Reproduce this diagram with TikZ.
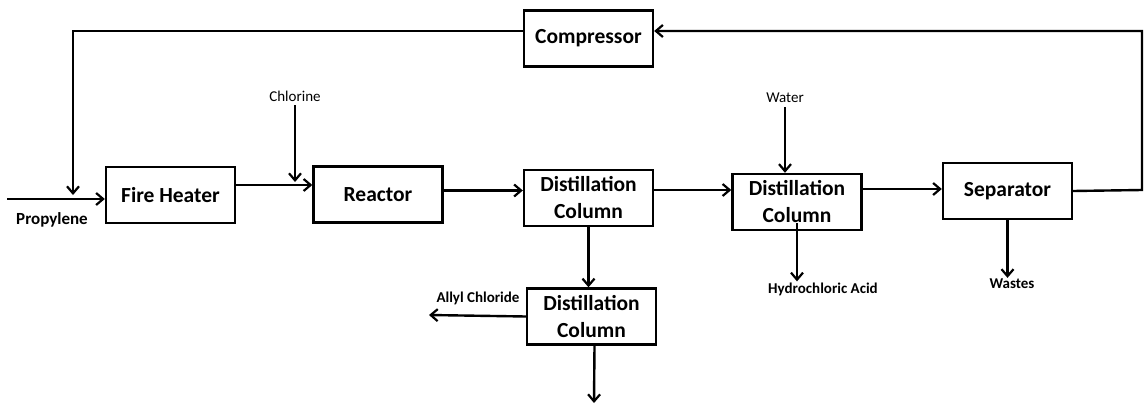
\documentclass[tikz,border=0pt]{standalone}
\usepackage{fontspec}
\setmainfont{Carlito}
\usetikzlibrary{arrows.meta,positioning,calc}
\tikzset{
  unit/.style={draw, line width=2.4pt, minimum width=129pt, minimum height=56pt, align=center,
               font=\bfseries\fontsize{21.5}{27}\selectfont, inner sep=2pt},
  arr/.style={-{Straight Barb[length=7pt,width=12pt,line width=2.2pt]}, line width=2.4pt},
  lab/.style={font=\bfseries\fontsize{15}{17}\selectfont, inner sep=1pt},
  thinlab/.style={font=\fontsize{15}{17}\selectfont, inner sep=1pt},
}

\begin{document}
\begin{tikzpicture}[x=1pt, y=-1pt]
  \useasboundingbox (0,0) rectangle (1144,404);
  % process units
  \node[unit] (comp) at (588.5,38.5) {Compressor};
  \node[unit] (fh) at (170.5,195) {Fire Heater};
  \node[unit] (re) at (378,194.5) {Reactor};
  \node[unit] (dc1) at (588.5,198) {Distillation\\Column};
  \node[unit] (dc2) at (797,202) {Distillation\\Column};
  \node[unit] (sep) at (1007.5,191) {Separator};
  \node[unit] (dc3) at (591.5,316.5) {Distillation\\Column};
  % stream labels
  \node[lab, font=\bfseries\fontsize{17}{19}\selectfont] (pr) at (52,220) {Propylene};
  \node[thinlab] (cl) at (295,96) {Chlorine};
  \node[thinlab] (wa) at (785,98) {Water};
  \node[lab] (hcl) at (823,289) {Hydrochloric Acid};
  \node[lab] (ws) at (1012,284) {Wastes};
  \node[lab] (ac) at (478,298) {Allyl Chloride};
  % free ends
  \coordinate (feed) at (7,199);
  \coordinate (rc) at (73,31);
  \coordinate (edge) at (1142,190);
  \coordinate (acout) at (429,315);
  \coordinate (btm) at (594,403);
  % main line
  \draw[arr] (feed) -- ([yshift=-4pt]fh.west);
  \draw[arr] ([yshift=10pt]fh.east) -- ([yshift=10pt]fh.east -| re.west);
  \draw[arr] (cl.south) ++(0,3) -- ([yshift=13pt]fh.east -| cl.south);
  \draw[arr] ([yshift=4pt]re.east) -- ([yshift=4pt]re.east -| dc1.west);
  \draw[arr] ([yshift=8pt]dc1.east) -- ([yshift=8pt]dc1.east -| dc2.west);
  \draw[arr] (wa.south) ++(0,3) -- (wa.south |- dc2.north);
  \draw[arr] ([yshift=13pt]dc2.east) -- ([yshift=13pt]dc2.east -| sep.west);
  % side draws
  \draw[arr] ([yshift=8pt]dc2.south) -- (dc2.south |- hcl.north);
  \draw[arr] (sep.south) -- (sep.south |- ws.north);
  \draw[arr] (dc1.south) -- (dc1.south |- dc3.north);
  \draw[arr] (dc3.west) -- (acout);
  \draw[arr] ([xshift=3pt]dc3.south) -- (btm);
  % recycle loop
  \draw[arr] (sep.east) -- (edge) |- ([yshift=7.5pt]comp.east);
  \draw[arr] ([yshift=7.5pt]comp.west) -- (rc) -- ([yshift=4pt]feed -| rc);
\end{tikzpicture}
\end{document}
